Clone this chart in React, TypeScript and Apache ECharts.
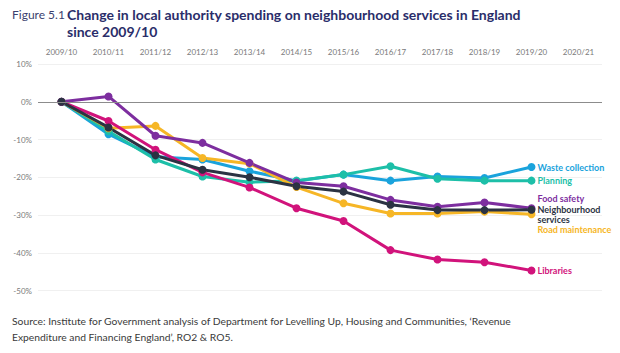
import React, { useEffect, useRef } from "react";
import * as echarts from "echarts";

const categories = ["2009/10","2010/11","2011/12","2012/13","2013/14","2014/15","2015/16","2016/17","2017/18","2018/19","2019/20","2020/21"];
const wasteCollection = [0, -8.6, -14.6, -15.3, -18.4, -21.0, -19.3, -20.9, -19.8, -20.2, -17.3];
const planning = [0, -7.8, -15.3, -19.8, -21.3, -20.9, -19.3, -17.1, -20.4, -20.9, -20.9];
const roadMaintenance = [0, -7.0, -6.4, -14.9, -16.4, -22.6, -26.9, -29.6, -29.6, -29.1, -29.8];
const libraries = [0, -5.1, -12.7, -18.7, -22.7, -28.2, -31.6, -39.3, -41.8, -42.5, -44.7];
const foodSafety = [0, 1.4, -9.0, -10.9, -16.2, -21.4, -22.4, -26.0, -27.8, -26.7, -28.2];
const neighbourhood = [0, -6.8, -14.2, -18.0, -20.0, -22.4, -23.8, -27.3, -28.7, -28.7, -28.6];
const yTicks = [10, 0, -10, -20, -30, -40, -50];

const FONT = "Lato";

function mk(name: string, label: string, data: number[], color: string, dy: number, lh = 9) {
  return {
    type: "line",
    name,
    data,
    symbol: "circle",
    symbolSize: 8,
    lineStyle: { color, width: 3 },
    itemStyle: { color },
    endLabel: {
      show: true,
      formatter: label,
      color,
      fontFamily: FONT,
      fontWeight: "bold",
      fontSize: 9,
      lineHeight: lh,
      distance: 6,
      offset: [0, dy],
      align: "left",
    },
  };
}

export default function App() {
  const ref = useRef<HTMLDivElement>(null);
  useEffect(() => {
    const chart = echarts.init(ref.current!, null, { renderer: "svg" });
    chart.setOption({
      animation: false,
      backgroundColor: "#ffffff",
      grid: { left: 38, right: 18, top: 64, bottom: 62.5 },
      xAxis: {
        type: "category",
        data: categories,
        position: "top",
        boundaryGap: true,
        axisLine: { show: false },
        axisTick: { show: false },
        axisLabel: { color: "#7a7a7a", fontSize: 8, fontFamily: FONT, margin: 8 },
      },
      yAxis: {
        type: "value",
        min: -50,
        max: 10,
        interval: 10,
        axisLine: { show: false },
        axisTick: { show: false },
        axisLabel: {
          color: "#7a7a7a",
          fontSize: 8,
          fontFamily: FONT,
          margin: 6,
          formatter: (v: number) => (yTicks.includes(v) ? v + "%" : ""),
        },
        splitLine: { lineStyle: { color: "#f0f0f0", width: 1 } },
      },
      series: [
        {
          ...mk("Waste collection", "Waste collection", wasteCollection, "#1aa3dc", 0),
          markLine: {
            silent: true,
            symbol: "none",
            label: { show: false },
            lineStyle: { color: "#8c8c8c", width: 1, type: "solid" },
            data: [{ yAxis: 0 }],
          },
        },
        mk("Planning", "Planning", planning, "#1dbfa8", 0),
        mk("Road maintenance", "Road maintenance", roadMaintenance, "#f6b626", 15),
        mk("Libraries", "Libraries", libraries, "#d1137b", 0),
        mk("Food safety", "Food safety", foodSafety, "#7d2e9f", -10),
        mk("Neighbourhood services", "Neighbourhood\nservices", neighbourhood, "#2b3343", 5, 10),
      ],
      graphic: [
        { type: "text", left: 12, top: 8, style: { text: "Figure 5.1", fontFamily: FONT, fontSize: 12, fill: "#3b3f6e" } },
        { type: "text", left: 67, top: 7, style: { text: "Change in local authority spending on neighbourhood services in England", fontFamily: FONT, fontWeight: "bold", fontSize: 14, fill: "#2a2d6a" } },
        { type: "text", left: 67, top: 24, style: { text: "since 2009/10", fontFamily: FONT, fontWeight: "bold", fontSize: 14, fill: "#2a2d6a" } },
        { type: "text", left: 12, top: 316, style: { text: "Source: Institute for Government analysis of Department for Levelling Up, Housing and Communities, \u2018Revenue", fontFamily: FONT, fontSize: 10.3, fill: "#3a3a3a" } },
        { type: "text", left: 12, top: 332, style: { text: "Expenditure and Financing England\u2019, RO2 & RO5.", fontFamily: FONT, fontSize: 10.3, fill: "#3a3a3a" } },
      ],
    });
    return () => chart.dispose();
  }, []);
  return <div ref={ref} style={{ position: "fixed", left: 0, top: 0, width: 620, height: 353 }} />;
}
